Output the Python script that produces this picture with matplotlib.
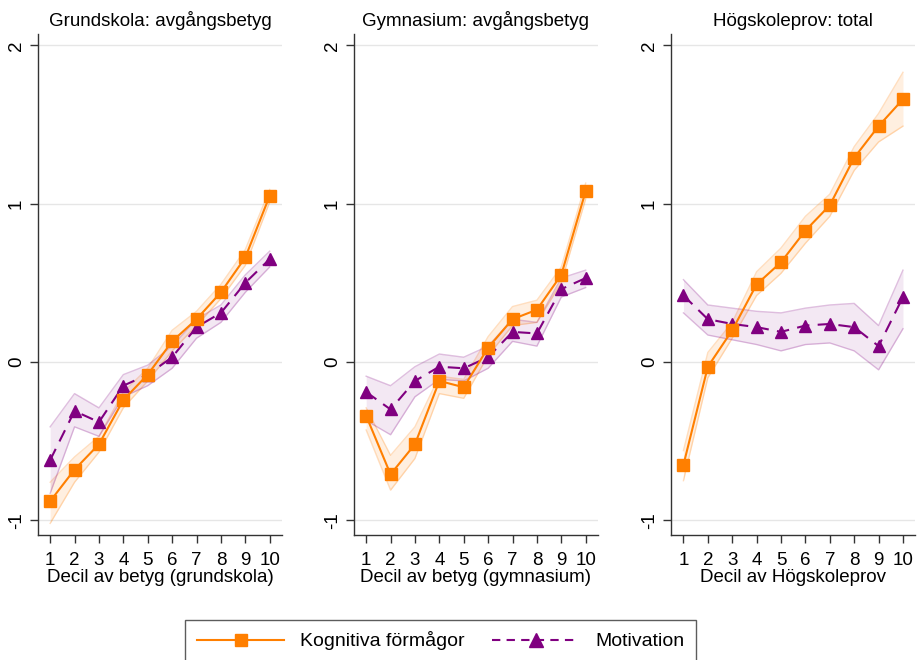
import matplotlib.pyplot as plt
from matplotlib.lines import Line2D

plt.rcParams["font.family"] = ["Liberation Sans", "DejaVu Sans"]

deciles = [1, 2, 3, 4, 5, 6, 7, 8, 9, 10]
titles = ["Grundskola: avgångsbetyg", "Gymnasium: avgångsbetyg", "Högskoleprov: total"]
xlabels = ["Decil av betyg (grundskola)", "Decil av betyg (gymnasium)", "Decil av Högskoleprov"]

# Grundskola
grund_kog = [-0.88, -0.68, -0.52, -0.24, -0.08, 0.13, 0.27, 0.44, 0.66, 1.05]
grund_kog_lo = [-1.02, -0.76, -0.57, -0.29, -0.12, 0.07, 0.23, 0.40, 0.61, 1.01]
grund_kog_hi = [-0.76, -0.60, -0.47, -0.19, -0.04, 0.20, 0.32, 0.49, 0.71, 1.09]
grund_mot = [-0.62, -0.31, -0.38, -0.15, -0.08, 0.03, 0.22, 0.31, 0.50, 0.65]
grund_mot_lo = [-0.83, -0.41, -0.47, -0.22, -0.15, -0.04, 0.15, 0.25, 0.44, 0.60]
grund_mot_hi = [-0.41, -0.20, -0.29, -0.08, -0.02, 0.10, 0.27, 0.36, 0.55, 0.70]

# Gymnasium
gymn_kog = [-0.34, -0.71, -0.52, -0.12, -0.16, 0.09, 0.27, 0.33, 0.55, 1.08]
gymn_kog_lo = [-0.43, -0.81, -0.61, -0.20, -0.23, 0.04, 0.23, 0.25, 0.50, 1.03]
gymn_kog_hi = [-0.29, -0.59, -0.41, -0.09, -0.11, 0.16, 0.35, 0.39, 0.60, 1.13]
gymn_mot = [-0.19, -0.30, -0.12, -0.03, -0.04, 0.03, 0.19, 0.18, 0.46, 0.53]
gymn_mot_lo = [-0.37, -0.46, -0.22, -0.11, -0.12, -0.04, 0.13, 0.10, 0.41, 0.47]
gymn_mot_hi = [-0.09, -0.15, -0.03, 0.05, 0.03, 0.10, 0.27, 0.25, 0.53, 0.58]

# Högskoleprov
hp_kog = [-0.65, -0.03, 0.20, 0.49, 0.63, 0.83, 0.99, 1.29, 1.49, 1.66]
hp_kog_lo = [-0.75, -0.10, 0.15, 0.42, 0.56, 0.75, 0.92, 1.21, 1.39, 1.49]
hp_kog_hi = [-0.56, 0.06, 0.25, 0.57, 0.72, 0.92, 1.06, 1.36, 1.57, 1.83]
hp_mot = [0.42, 0.27, 0.24, 0.22, 0.19, 0.23, 0.24, 0.22, 0.10, 0.41]
hp_mot_lo = [0.31, 0.17, 0.14, 0.11, 0.07, 0.11, 0.12, 0.07, -0.05, 0.21]
hp_mot_hi = [0.52, 0.36, 0.34, 0.32, 0.31, 0.34, 0.36, 0.37, 0.23, 0.58]

kog_color = "#FF7F00"
mot_color = "#800080"

panels = [
    (grund_kog, grund_kog_lo, grund_kog_hi, grund_mot, grund_mot_lo, grund_mot_hi),
    (gymn_kog, gymn_kog_lo, gymn_kog_hi, gymn_mot, gymn_mot_lo, gymn_mot_hi),
    (hp_kog, hp_kog_lo, hp_kog_hi, hp_mot, hp_mot_lo, hp_mot_hi),
]
lefts = [0.0414, 0.386, 0.732]

fig = plt.figure(figsize=(9.17, 6.6), dpi=100)

for i, (kog, kog_lo, kog_hi, mot, mot_lo, mot_hi) in enumerate(panels):
    ax = fig.add_axes([lefts[i], 0.189, 0.266, 0.759])

    # confidence bands
    ax.fill_between(deciles, kog_lo, kog_hi, color=kog_color, alpha=0.12, linewidth=0, zorder=2)
    ax.plot(deciles, kog_lo, color=kog_color, alpha=0.25, lw=1, zorder=2)
    ax.plot(deciles, kog_hi, color=kog_color, alpha=0.25, lw=1, zorder=2)
    ax.fill_between(deciles, mot_lo, mot_hi, color=mot_color, alpha=0.09, linewidth=0, zorder=2)
    ax.plot(deciles, mot_lo, color=mot_color, alpha=0.25, lw=1, zorder=2)
    ax.plot(deciles, mot_hi, color=mot_color, alpha=0.25, lw=1, zorder=2)

    ax.plot(deciles, kog, color=kog_color, lw=1.5, marker="s", markersize=8, zorder=4)
    ax.plot(deciles, mot, color=mot_color, lw=1.5, ls=(0, (6, 4)), marker="^",
            markersize=8.5, zorder=3)

    ax.set_xlim(0.5, 10.5)
    ax.set_ylim(-1.095, 2.07)
    ax.set_xticks(deciles)
    ax.set_yticks([-1, 0, 1, 2])
    ax.set_yticklabels(["-1", "0", "1", "2"], rotation=90, va="center")
    ax.tick_params(labelsize=13.5, length=6, width=1, color="#333333")
    ax.tick_params(axis="x", pad=6)
    ax.grid(axis="y", color="#e6e6e6", lw=1)
    ax.set_axisbelow(True)
    for s in ["top", "right"]:
        ax.spines[s].set_visible(False)
    for s in ["left", "bottom"]:
        ax.spines[s].set_color("#333333")
        ax.spines[s].set_linewidth(1)
    ax.set_title(titles[i], fontsize=13.5, pad=6)
    ax.set_xlabel(xlabels[i], fontsize=13.5, labelpad=0)

handles = [
    Line2D([], [], color=kog_color, lw=1.5, marker="s", markersize=9),
    Line2D([], [], color=mot_color, lw=1.5, ls=(0, (4, 3)), marker="^", markersize=9.5),
]
leg = fig.legend(handles, ["Kognitiva förmågor", "Motivation"], loc="lower center",
                 bbox_to_anchor=(0.4804, -0.012), ncol=2, fontsize=14, frameon=True,
                 fancybox=False, edgecolor="#333333", handlelength=4.5, columnspacing=1.4,
                 handletextpad=0.8, borderpad=0.6, borderaxespad=0.3)
leg.get_frame().set_linewidth(1)

fig.savefig("out.png", dpi=100)
